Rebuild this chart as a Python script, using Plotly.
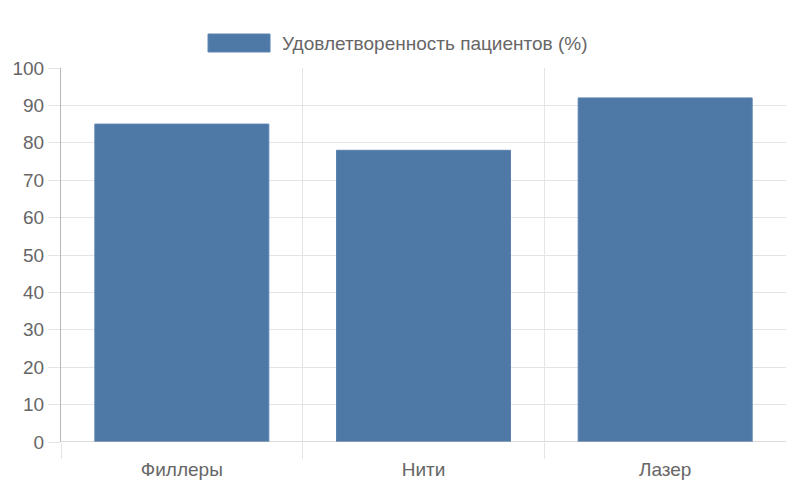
import plotly.graph_objects as go

# categories and values
categories = ['Филлеры', 'Нити', 'Лазер']
satisfaction = [85, 78, 92]
series_name = 'Удовлетворенность пациентов (%)'

positions = list(range(len(categories)))
boundaries = [p - 0.5 for p in positions] + [positions[-1] + 0.5]

text_color = '#666666'
grid_color = '#e4e4e4'
axis_color = '#b8b8b8'
bar_color = '#4e79a7'
bar_edge = '#5a83b0'
font = dict(family='Liberation Sans, Arial, sans-serif', size=19, color=text_color)

fig = go.Figure()
fig.add_trace(go.Bar(
    name=series_name, x=positions, y=satisfaction,
    marker=dict(color=bar_color, line=dict(color=bar_edge, width=1)),
    width=0.72, showlegend=False,
))
# invisible trace on a second x axis so the category boundaries get grid lines
fig.add_trace(go.Scatter(x=boundaries, y=[0] * len(boundaries), xaxis='x2',
                         mode='markers', marker=dict(opacity=0),
                         showlegend=False, hoverinfo='skip'))

# the page body adds an 8px margin, so the figure is 8px smaller than the window
fig.update_layout(
    width=786, height=474,
    margin=dict(l=53, r=8, t=60, b=40),
    paper_bgcolor='white', plot_bgcolor='white',
    font=font,
    showlegend=False,
    xaxis=dict(range=[-0.5, 2.5], tickvals=positions, ticktext=categories,
               showgrid=False, zeroline=False, ticks='outside', ticklen=10,
               tickcolor='rgba(0,0,0,0)', showline=False, automargin=False,
               tickfont=dict(size=19, color=text_color)),
    xaxis2=dict(range=[-0.5, 2.5], overlaying='x', side='bottom', tickvals=boundaries,
                showticklabels=False, showgrid=True, gridcolor=grid_color, gridwidth=1,
                ticks='outside', ticklen=16, tickcolor=grid_color, zeroline=False,
                showline=False, automargin=False),
    yaxis=dict(range=[0, 100], dtick=10, showgrid=True, gridcolor=grid_color,
               ticks='outside', ticklen=12, tickcolor=grid_color, zeroline=False,
               showline=True, linecolor=axis_color, linewidth=1, automargin=False,
               tickfont=dict(size=19, color=text_color)),
)
fig.add_hline(y=0, line=dict(color=axis_color, width=1))

# legend drawn like the reference: wide swatch followed by the series name
fig.add_shape(type='rect', xref='paper', yref='paper',
              x0=0.2028, x1=0.2883, y0=1.0428, y1=1.0909,
              fillcolor=bar_color, line=dict(color=bar_edge, width=1))
fig.add_annotation(text=series_name, xref='paper', yref='paper',
                   x=0.302, y=1.0668, xanchor='left', yanchor='middle',
                   showarrow=False, font=dict(size=19, color=text_color))

fig.write_html('out.html')
